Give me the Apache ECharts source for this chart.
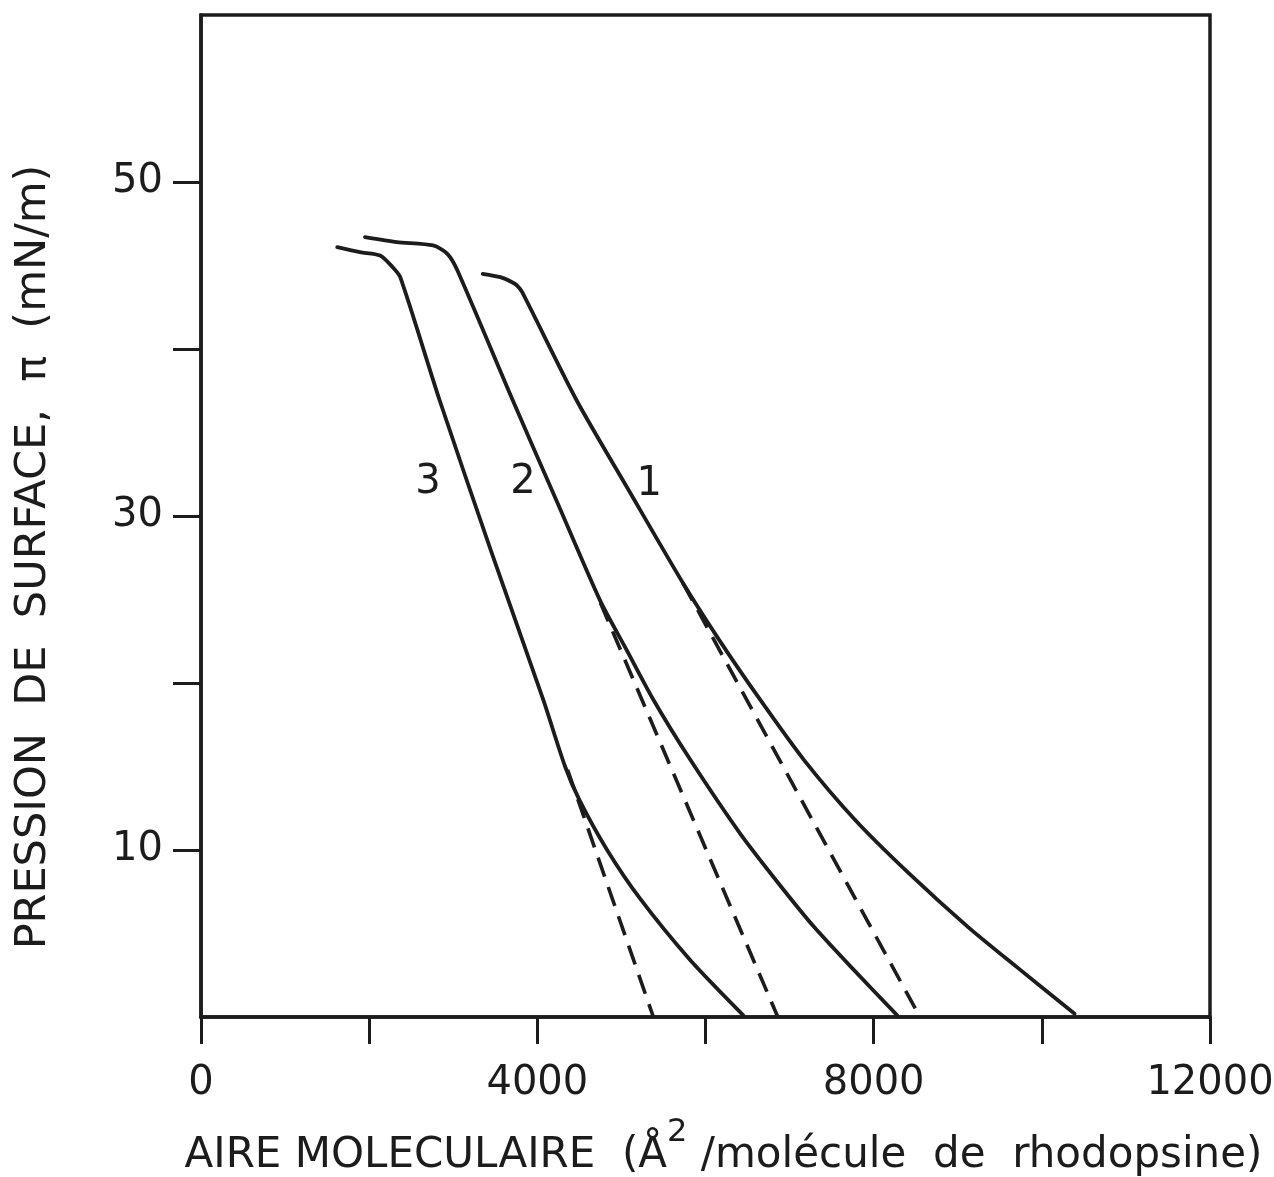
<!DOCTYPE html>
<html>
<head>
<meta charset="utf-8">
<script src="https://cdn.jsdelivr.net/npm/echarts@6/dist/echarts.min.js"></script>
<style>
  html, body { margin: 0; padding: 0; background: #fff; }
  #chart { width: 1274px; height: 1177px; }
</style>
</head>
<body>
<div id="chart"></div>
<script>
// Curve 1 (solid)
var curve1X = [3350, 3560, 3700, 3760, 3820, 4470, 5080, 5730, 6160, 6650, 7170, 7780, 8420, 9120, 9700, 10390];
var curve1Y = [44.5, 44.3, 44.0, 43.8, 43.4, 36.9, 31.6, 26.0, 22.6, 19.0, 15.4, 11.8, 8.6, 5.4, 3.0, 0.2];
// Curve 2 (solid)
var curve2X = [1950, 2330, 2760, 2930, 3050, 3710, 4230, 4750, 5060, 5380, 5820, 6410, 6900, 7290, 7730, 8280];
var curve2Y = [46.7, 46.4, 46.2, 45.7, 44.7, 36.9, 30.9, 24.9, 22.0, 19.0, 15.4, 11.0, 7.8, 5.4, 3.0, 0.1];
// Curve 3 (solid)
var curve3X = [1620, 1890, 2130, 2280, 2370, 2840, 3450, 4070, 4330, 4500, 4830, 5220, 5820, 6450];
var curve3Y = [46.1, 45.8, 45.6, 44.9, 44.3, 36.9, 27.9, 19.0, 15.0, 13.0, 10.0, 7.1, 3.4, 0.1];
// Dashed extrapolations
var dash1X = [5730, 8550];
var dash1Y = [26.0, 0];
var dash2X = [4750, 6860];
var dash2Y = [24.8, 0];
var dash3X = [4360, 5380];
var dash3Y = [14.8, 0];
// Curve number labels
var curveNames = ['1', '2', '3'];
var curveNameX = [5330, 3830, 2700];
var curveNameY = [31.9, 32.0, 32.0];
// Axis ticks / labels
var xTickLabels = [0, 4000, 8000, 12000];
var yTicks = [10, 20, 30, 40, 50];
var yTickLabels = [10, 30, 50];

function pairs(xs, ys) { return xs.map(function (x, i) { return [x, ys[i]]; }); }

var INK = '#1c1c1c';
var FONT = 'DejaVu Sans';

var chart = echarts.init(document.getElementById('chart'), null, { renderer: 'canvas' });

function solid(data) {
  return { type: 'line', data: data, symbol: 'none', smooth: 0.25, clip: false,
    lineStyle: { color: INK, width: 3.8, cap: 'round', join: 'round' }, z: 3 };
}
function dashed(data) {
  return { type: 'line', data: data, symbol: 'none', clip: false,
    lineStyle: { color: INK, width: 3.6, type: [20, 11] }, z: 2 };
}

var option = {
  backgroundColor: '#fff',
  animation: false,
  grid: { left: 201, right: 64, top: 15, bottom: 160, show: true, borderColor: INK, borderWidth: 3.5,
          containLabel: false, outerBoundsMode: 'none' },
  xAxis: {
    type: 'value', min: 0, max: 12000, interval: 2000,
    axisLine: { show: true, lineStyle: { color: INK, width: 3.5 } },
    axisTick: { show: true, length: 27, lineStyle: { color: INK, width: 3 } },
    splitLine: { show: false },
    axisLabel: { customValues: xTickLabels, color: INK, fontFamily: FONT, fontSize: 40, margin: 47,
                 formatter: function (v) { return String(v); } },
    name: '{t|AIRE MOLECULAIRE  (Å}{s|2}{t| /molécule  de  rhodopsine)}',
    nameLocation: 'middle', nameGap: 100,
    nameTextStyle: {
      color: INK, fontFamily: FONT, padding: [0, 0, 0, 36],
      rich: {
        t: { fontFamily: FONT, fontSize: 42, color: INK, lineHeight: 60, verticalAlign: 'bottom' },
        s: { fontFamily: FONT, fontSize: 32, color: INK, lineHeight: 60, verticalAlign: 'top' }
      }
    }
  },
  yAxis: {
    type: 'value', min: 0, max: 60, interval: 10,
    axisLine: { show: true, lineStyle: { color: INK, width: 3.5 } },
    axisTick: { show: true, length: 28, customValues: yTicks, lineStyle: { color: INK, width: 3 } },
    splitLine: { show: false },
    axisLabel: { customValues: yTickLabels, color: INK, fontFamily: FONT, fontSize: 40, margin: 38 },
    name: 'PRESSION  DE  SURFACE,  π  (mN/m)',
    nameLocation: 'middle', nameGap: 146, nameRotate: 90,
    nameTextStyle: { color: INK, fontFamily: FONT, fontSize: 43, padding: [0, 82, 0, 0] }
  },
  series: [
    solid(pairs(curve1X, curve1Y)),
    solid(pairs(curve2X, curve2Y)),
    solid(pairs(curve3X, curve3Y)),
    dashed(pairs(dash1X, dash1Y)),
    dashed(pairs(dash2X, dash2Y)),
    dashed(pairs(dash3X, dash3Y)),
    {
      type: 'scatter', symbolSize: 1, itemStyle: { color: 'rgba(0,0,0,0)' },
      data: curveNames.map(function (n, i) { return { name: n, value: [curveNameX[i], curveNameY[i]] }; }),
      label: { show: true, position: 'inside', formatter: '{b}', color: INK, opacity: 1,
               fontFamily: FONT, fontSize: 40 },
      z: 4
    }
  ]
};
chart.setOption(option);
</script>
</body>
</html>
